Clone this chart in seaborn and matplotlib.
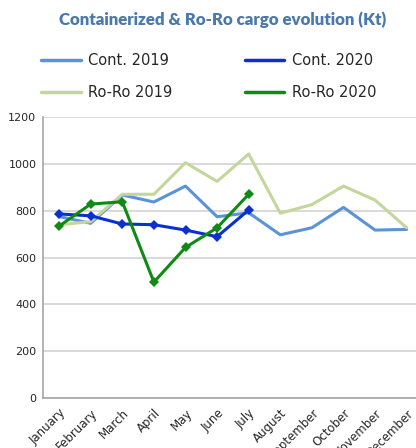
import numpy as np
import pandas as pd
import seaborn as sns
import matplotlib.pyplot as plt
from matplotlib.lines import Line2D

months = ["January", "February", "March", "April", "May", "June", "July",
          "August", "September", "October", "November", "December"]
cont_2019 = [775, 746, 867, 837, 905, 774, 791, 697, 727, 814, 717, 720]
roro_2019 = [740, 753, 870, 870, 1005, 925, 1042, 789, 826, 905, 845, 727]
cont_2020 = [786, 778, 743, 740, 717, 689, 803]
roro_2020 = [734, 828, 838, 495, 643, 727, 870]

series_names = ["Cont. 2019", "Cont. 2020", "Ro-Ro 2019", "Ro-Ro 2020"]
colors = {"Cont. 2019": "#5b93d7", "Cont. 2020": "#0b30d0",
          "Ro-Ro 2019": "#c3d69b", "Ro-Ro 2020": "#0f8a12"}

# long-format table
rows = []
for name, vals in zip(series_names, [cont_2019, cont_2020, roro_2019, roro_2020]):
    for i, v in enumerate(vals):
        rows.append({"month": i, "value": v, "series": name})
df = pd.DataFrame(rows)

sns.set_style("white")
plt.rcParams["font.family"] = ["DejaVu Sans"]

fig = plt.figure(figsize=(4.16, 4.48), dpi=100)
ax = fig.add_axes([43.3 / 416, 1 - 398 / 448, (422.5 - 43.3) / 416, (398 - 117) / 448])

# draw order: 2019 lines under 2020 lines
for name in ["Cont. 2019", "Ro-Ro 2019", "Cont. 2020", "Ro-Ro 2020"]:
    sub = df[df["series"] == name]
    has_marker = "2020" in name
    sns.lineplot(data=sub, x="month", y="value", ax=ax, color=colors[name],
                 linewidth=2.2, marker="D" if has_marker else None,
                 markersize=5, markeredgewidth=0, legend=False)

ax.set_xlim(-0.5, 11.5)
ax.set_ylim(0, 1200)
ax.set_yticks(np.arange(0, 1201, 200))
ax.set_xticks(range(12))
ax.set_xticklabels(months, rotation=45, ha="right", rotation_mode="anchor", fontsize=8.5)
ax.set_xticks(np.arange(0.5, 11.5, 1), minor=True)
ax.tick_params(axis="x", which="major", length=0, pad=6)
ax.tick_params(axis="x", which="minor", length=8, direction="inout", color="#a6a6a6", width=1)
ax.tick_params(axis="y", length=4, color="#bfbfbf", labelsize=8, pad=1)
ax.set_xlabel("")
ax.set_ylabel("")
ax.yaxis.grid(True, color="#d9d9d9", linewidth=1.4)
ax.set_axisbelow(True)
for s in ["top", "right"]:
    ax.spines[s].set_visible(False)
for s in ["left", "bottom"]:
    ax.spines[s].set_color("#a6a6a6")
    ax.spines[s].set_linewidth(1.2)

fig.text(0.536, 1 - 20 / 448, "Containerized & Ro-Ro cargo evolution (Kt)",
         ha="center", va="center", fontsize=12.2, fontweight="heavy", color="#4a79ad",
         family=["Lato", "DejaVu Sans"])

# legend fills column by column, so order gives rows: Cont 2019 | Cont 2020, Ro-Ro 2019 | Ro-Ro 2020
leg_order = ["Cont. 2019", "Ro-Ro 2019", "Cont. 2020", "Ro-Ro 2020"]
handles = [Line2D([0], [0], color=colors[n], linewidth=2.5) for n in leg_order]
fig.legend(handles, leg_order, ncol=2, loc="upper left",
           bbox_to_anchor=(28 / 416, 1 - 40 / 448), frameon=False, fontsize=10.5,
           handlelength=2.7, handletextpad=0.5, columnspacing=5.0, labelspacing=1.15)

fig.savefig("out.png", dpi=100)
